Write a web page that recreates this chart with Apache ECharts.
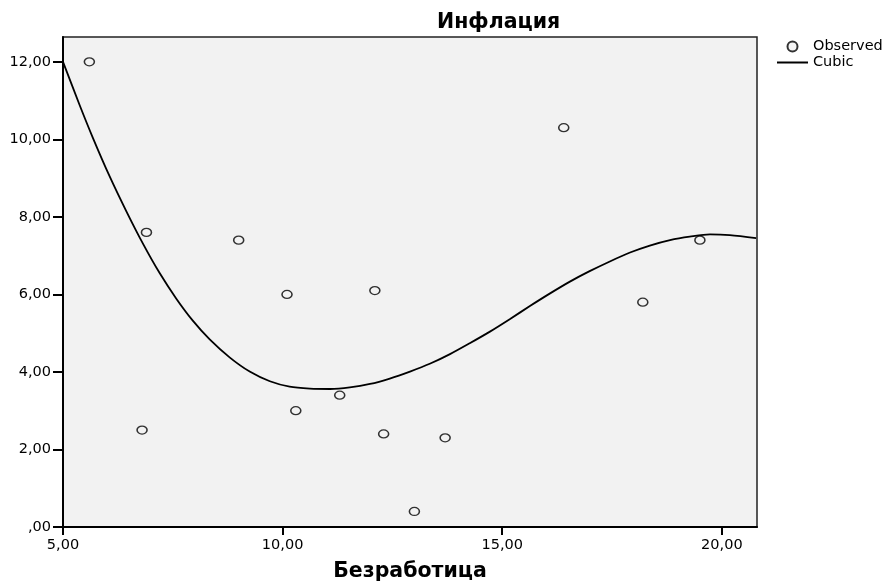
<!DOCTYPE html>
<html>
<head>
<meta charset="utf-8">
<script src="https://cdn.jsdelivr.net/npm/echarts@6/dist/echarts.min.js"></script>
<style>html,body{margin:0;padding:0;background:#fff;}#c{width:889px;height:581px;}</style>
</head>
<body>
<div id="c"></div>
<script>
// Observed points (Безработица, Инфлация)
const obsX = [5.6, 6.9, 6.8, 9.0, 10.1, 10.3, 11.3, 12.1, 12.3, 13.0, 13.7, 16.4, 18.2, 19.5];
const obsY = [12.0, 7.6, 2.5, 7.4, 6.0, 3.0, 3.4, 6.1, 2.4, 0.4, 2.3, 10.3, 5.8, 7.4];
// Cubic fit curve
const cubicX = [5.00, 5.38, 5.68, 6.06, 6.44, 6.82, 7.20, 7.58, 7.95, 8.34, 8.80, 9.25, 9.71, 10.16, 10.62, 11.08, 11.53, 11.99, 12.44, 12.90, 13.35, 13.81, 14.26, 14.72, 15.17, 15.63, 16.08, 16.54, 16.99, 17.45, 17.91, 18.36, 18.82, 19.27, 19.73, 20.18, 20.78];
const cubicY = [12.00, 10.88, 10.04, 9.05, 8.15, 7.31, 6.55, 5.89, 5.33, 4.84, 4.37, 4.01, 3.76, 3.62, 3.57, 3.56, 3.60, 3.69, 3.83, 4.01, 4.21, 4.46, 4.74, 5.04, 5.36, 5.70, 6.02, 6.33, 6.60, 6.85, 7.08, 7.26, 7.40, 7.49, 7.55, 7.53, 7.45];
const xTicks = [5, 10, 15, 20];
const yTicks = [0, 2, 4, 6, 8, 10, 12];

const fmt = v => { const s = v.toFixed(2).replace('.', ','); return s.startsWith('0,') ? s.slice(1) : s; };
const font = 'DejaVu Sans';

const chart = echarts.init(document.getElementById('c'), null, {renderer: 'canvas'});
chart.setOption({
  animation: false,
  title: {
    text: 'Инфлация', left: 432, top: 7,
    textStyle: {fontFamily: font, fontWeight: 'bold', fontSize: 20.5, color: '#000'}
  },
  legend: {
    orient: 'vertical', left: 776, top: 39, padding: 0, itemGap: 1, itemWidth: 31, itemHeight: 10,
    textStyle: {fontFamily: font, fontSize: 14.5, lineHeight: 14, color: '#000'},
    data: [{name: 'Observed'}, {name: 'Cubic', itemStyle: {opacity: 0}}]
  },
  grid: {
    left: 63, top: 37, right: 132, bottom: 54,
    outerBoundsMode: 'none', containLabel: false,
    show: true, backgroundColor: '#f2f2f2', borderColor: '#222', borderWidth: 1.5
  },
  xAxis: {
    type: 'value', min: 5, max: 20.8,
    name: 'Безработица', nameLocation: 'middle', nameGap: 34,
    nameTextStyle: {fontFamily: font, fontWeight: 'bold', fontSize: 20.5, color: '#000'},
    axisLine: {show: true, onZero: false, lineStyle: {color: '#000', width: 2}},
    axisTick: {show: true, length: 8, customValues: xTicks, lineStyle: {color: '#000', width: 2}},
    axisLabel: {customValues: xTicks, formatter: fmt, margin: 11, fontFamily: font, fontSize: 14.5, color: '#000'},
    splitLine: {show: false}
  },
  yAxis: {
    type: 'value', min: 0, max: 12.64,
    axisLine: {show: true, onZero: false, lineStyle: {color: '#000', width: 2}},
    axisTick: {show: true, length: 10, customValues: yTicks, lineStyle: {color: '#000', width: 2}},
    axisLabel: {customValues: yTicks, formatter: fmt, margin: 12, fontFamily: font, fontSize: 14.5, color: '#000'},
    splitLine: {show: false}
  },
  series: [
    {
      name: 'Observed', type: 'scatter',
      symbol: 'circle', symbolSize: [10, 8],
      itemStyle: {color: '#f2f2f2', borderColor: '#000', borderWidth: 1.4},
      data: obsX.map((x, i) => [x, obsY[i]]), z: 3
    },
    {
      name: 'Cubic', type: 'line', smooth: 0.3, showSymbol: false, symbol: 'none',
      lineStyle: {color: '#000', width: 1.8},
      itemStyle: {color: '#000'},
      data: cubicX.map((x, i) => [x, cubicY[i]]), z: 2
    }
  ]
});
</script>
</body>
</html>
